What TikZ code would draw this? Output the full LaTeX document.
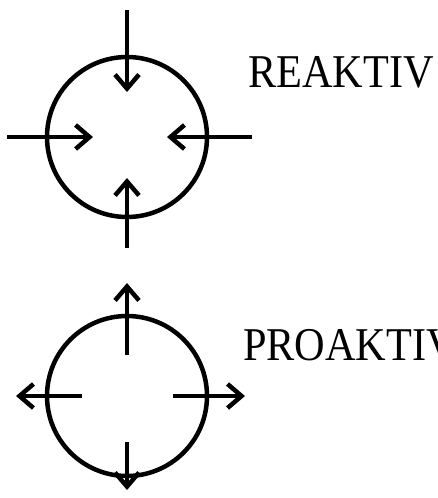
\documentclass[tikz,border=0pt]{standalone}
\usepackage{fontspec}
\setmainfont{Liberation Serif}
\usetikzlibrary{positioning,arrows.meta}

\begin{document}
\begin{tikzpicture}[
		x=1pt, y=-1pt,
		kreis/.style={
			draw,
			circle,
			line width=4.5pt,
			minimum size=160pt,
			inner sep=0pt,
			outer sep=0pt
		},
		pfeil/.style={
			-{Straight Barb[length=14pt,width=24pt]},
			line width=4.5pt
		},
		wort/.style={
			anchor=base west,
			inner sep=0pt,
			font=\fontsize{47}{50}\selectfont,
			xscale=0.9,
			transform shape
		}
		]
		
		\useasboundingbox (0,0) rectangle (438,498);
		
		\node[kreis] (reak) at (127,137) {};
		\node[wort] (reaktxt) at (248,87) {REAKTIV};
		
		\node[kreis] (proak) at (127,396) {};
		\node[wort] (proaktxt) at (243,360) {PROAKTIV};
		
		% nach innen
		\draw[pfeil] ([yshift=47pt]reak.north) -- ([yshift=-35pt]reak.north);
		\draw[pfeil] ([xshift=-40pt]reak.west) -- ([xshift=46pt]reak.west);
		\draw[pfeil] ([xshift=45pt]reak.east) -- ([xshift=-40pt]reak.east);
		\draw[pfeil] ([yshift=-31pt]reak.south) -- ([yshift=39pt]reak.south);
		
		% nach aussen
		\draw[pfeil] ([yshift=-39pt]proak.north) -- ([yshift=33pt]proak.north);
		\draw[pfeil] ([xshift=35pt]proak.west) -- ([xshift=-31pt]proak.west);
		\draw[pfeil] ([xshift=-34pt]proak.east) -- ([xshift=38pt]proak.east);
		\draw[pfeil] ([yshift=34pt]proak.south) -- ([yshift=-14pt]proak.south);
		
	\end{tikzpicture}
\end{document}
